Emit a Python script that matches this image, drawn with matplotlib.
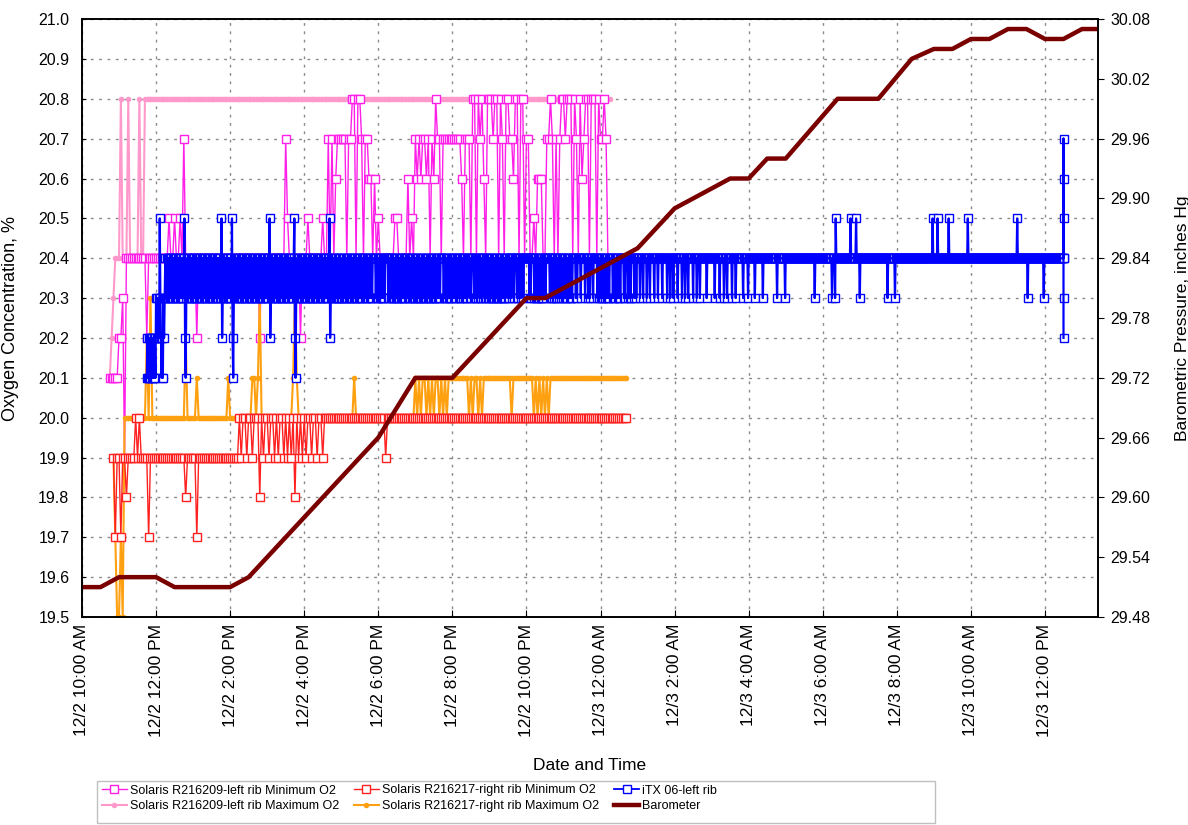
import matplotlib
matplotlib.use("Agg")
import matplotlib.pyplot as plt
from matplotlib import font_manager
from matplotlib.lines import Line2D
from matplotlib.patches import Rectangle
from matplotlib.ticker import FixedLocator, FuncFormatter, FormatStrFormatter
import numpy as np

plt.rcParams['font.family'] = ['Liberation Sans', 'DejaVu Sans']
# keep every zigzag of the dense logger traces
plt.rcParams['path.simplify'] = False

# O2 logs from 12/2 10:00 AM, one string per hour.
# Level code per reading: O2 % = 19.5 + int(code, 16) / 10, '.' = no reading.
START_HOUR = 10
SOLARIS_STEP_MIN = 3
ITX_STEP_MIN = 1

R216209_MIN = [
    '...............66666',
    '77849999999999979999',
    '9999999a99a99a9c9999',
    '99799999999999999999',
    '99999999999999997999',
    '9999999999ca99999979',
    '99a9999999a99c9c9bcc',
    'ccc9ccdd9ddc9ccbb9b9',
    'a99999999aa99999b9a9',
    'cbcbccbc9cbdcc9ccccc',
    'cccccb9ccc9dd9dcdb9d',
    'ddcdd9dc9ddccbdd9dd9',
    'cc99a9bbb99ccdc9c9cd',
    'dcddd9dc9dbcdd9ddd9d',
    'ccdc9...............',
]

R216209_MAX = [
    '..............667899',
    '9d999d99999d99dddddd',
    'dddddddddddddddddddd',
    'dddddddddddddddddddd',
    'dddddddddddddddddddd',
    'dddddddddddddddddddd',
    'dddddddddddddddddddd',
    'dddddddddddddddddddd',
    'dddddddddddddddddddd',
    'dddddddddddddddddddd',
    'dddddddddddddddddddd',
    'dddddddddddddddddddd',
    'dddddddddddddddddddd',
    'dddddddddddddddddddd',
    'dddddd..............',
]

R216217_MIN = [
    '.................424',
    '42443444454544442444',
    '44444444444444443444',
    '44244444444444444444',
    '44444545545545553545',
    '54554545545454535454',
    '54554554554555555555',
    '55555555555555555555',
    '55554555555555555555',
    '55555555555555555555',
    '55555555555555555555',
    '55555555555555555555',
    '55555555555555555555',
    '55555555555555555555',
    '555555555555555.....',
]

R216217_MAX = [
    '.................420',
    '02055555555555575855',
    '55555555555555557555',
    '55655555555555555556',
    '55555555555566568555',
    '55555555555555686555',
    '55555555555555555555',
    '55555556555555555555',
    '55555555555555555555',
    '65656656565665656566',
    '66666666656566565666',
    '66666666666656666666',
    '66665656565656666666',
    '66666666666666666666',
    '666666666666666.....',
]

ITX_06 = [
    '..... ..... ..... ..... ..... ..... ..... ..... ..... ..... ..... .....',
    '..... ..... ..... ..... ..... ..... ..... ..... ..... 67676 76767 67676',
    '87878 7a876 76878 98989 89898 98989 89898 98989 89898 9a768 98989 89898',
    '98989 89898 98989 89898 98989 89898 98989 89898 98989 8a789 89898 98989',
    '898a7 68989 89898 98989 89898 98989 89898 98989 89898 98989 89898 98989',
    '8989a 78989 89898 98989 89898 98989 89898 98989 8989a 76898 98989 89898',
    '98989 89898 98989 89898 98989 89898 98989 89898 9a789 89898 98989 89898',
    '89898 98989 89898 98989 89898 98989 89898 99989 89898 98989 89999 98989',
    '89898 98989 89999 98989 89898 98989 89898 98989 89898 99989 89898 98989',
    '89898 98989 89898 98989 89898 98989 89898 98989 89999 98989 89898 98989',
    '99898 98999 89898 99989 89898 99989 89999 89898 98999 89898 99989 89899',
    '89898 98989 89898 98989 89898 98999 89899 98999 89999 89899 98999 89999',
    '99999 89899 99989 89898 98989 89899 98999 99989 89898 99989 89899 98999',
    '89898 98999 89898 99999 89899 99989 99999 89999 89989 99989 99999 89899',
    '89898 99989 89898 99999 89898 99989 89899 99989 89999 89898 99999 89989',
    '99998 99998 99999 89999 89999 99899 99989 99999 89999 99989 99989 99989',
    '99999 89999 99899 99899 99899 99999 89999 98999 98999 99999 99899 99999',
    '99999 89999 99989 99999 89999 89999 99989 99998 99999 99999 98999 99998',
    '99999 99999 89999 99999 99989 99999 99999 99999 99999 98999 99999 99998',
    '99999 99999 99999 99999 99999 99999 99999 99999 99999 99899 99999 99999',
    '99999 99999 99999 89999 8a999 99999 99999 99999 99999 a9999 9999a 99999',
    '89999 99999 99999 99999 99999 99999 99999 99999 99999 89999 99999 99899',
    '99999 99999 99999 99999 99999 99999 99999 99999 99999 99999 99999 999a9',
    '99999 9a999 99999 99999 9999a 99999 99999 99999 99999 99999 99999 a9999',
    '99999 99999 99999 99999 99999 99999 99999 99999 99999 99999 99999 99999',
    '99999 99999 99999 a9999 99999 99999 99899 99999 99999 99999 99999 99989',
    '99999 99999 99999 99999 99999 99999 9.... ..... ..... ..... ..... .....',
]
# readings logged at the moment the iTX was retrieved
ITX_06_LAST = [20.7, 20.6, 20.5, 20.4, 20.3, 20.2]

# barometer, hours after midnight 12/2 vs inches Hg
BARO_HOURS = [10.0, 10.5, 11.0, 12.0, 12.5, 14.0, 14.5, 18.0, 19.0, 20.0,
              22.0, 22.5, 24.0, 25.0, 26.0, 27.5, 28.0, 28.5, 29.0, 30.4,
              31.5, 32.4, 33.0, 33.5, 34.0, 34.5, 35.0, 35.5, 36.0, 36.5,
              37.0, 37.45]
BARO_INHG = [29.51, 29.51, 29.52, 29.52, 29.51, 29.51, 29.52, 29.66, 29.72, 29.72,
             29.80, 29.80, 29.83, 29.85, 29.89, 29.92, 29.92, 29.94, 29.94, 30.00,
             30.00, 30.04, 30.05, 30.05, 30.06, 30.06, 30.07, 30.07, 30.06, 30.06,
             30.07, 30.07]

X_TICKS = list(range(10, 37, 2))
O2_TICKS = [19.5, 19.6, 19.7, 19.8, 19.9, 20.0, 20.1, 20.2, 20.3, 20.4,
            20.5, 20.6, 20.7, 20.8, 20.9, 21.0]
BARO_TICKS = [29.48, 29.54, 29.60, 29.66, 29.72, 29.78, 29.84, 29.90, 29.96, 30.02, 30.08]


def decode(rows, step_min):
    codes = "".join(rows).replace(" ", "")
    vals = np.array([np.nan if c == '.' else 19.5 + int(c, 16) / 10 for c in codes])
    hours = START_HOUR + np.arange(len(vals)) * step_min / 60
    return hours, vals


def time_label(h, pos):
    day = 2 + int(h // 24)
    hr = int(round(h)) % 24
    h12 = hr % 12 or 12
    return f"12/{day} {h12}:00 {'AM' if hr < 12 else 'PM'}"


fig = plt.figure(figsize=(11.88, 8.25), dpi=100)
ax = fig.add_axes([0.069, 0.2521, 0.8552, 0.7248])

sq = dict(marker='s', ms=5.5, mfc='white', mew=1.0)

t, v = decode(R216209_MAX, SOLARIS_STEP_MIN)
h_pmax, = ax.plot(t, v, color='#ff99cc', lw=1.5, marker='o', ms=4, mew=0)
t, v = decode(R216209_MIN, SOLARIS_STEP_MIN)
h_pmin, = ax.plot(t, v, color='#ff1fe8', lw=1.0, **sq)
t, v = decode(R216217_MAX, SOLARIS_STEP_MIN)
h_omax, = ax.plot(t, v, color='#ffa010', lw=1.5, marker='o', ms=4, mew=0)
t, v = decode(R216217_MIN, SOLARIS_STEP_MIN)
h_rmin, = ax.plot(t, v, color='#ff2020', lw=1.0, **sq)

# iTX: squares first, trace over them so the fast swings read as one band
t, v = decode(ITX_06, ITX_STEP_MIN)
ok = ~np.isnan(v)
t = np.concatenate([t[ok], np.full(len(ITX_06_LAST), t[ok][-1])])
v = np.concatenate([v[ok], ITX_06_LAST])
ax.plot(t, v, linestyle='none', color='#0000ff', zorder=2.0, **sq)
ax.plot(t, v, color='#0000ff', lw=1.6, zorder=2.05)
h_itx = Line2D([], [], color='#0000ff', lw=1.3, **sq)

ax.set_xlim(10, 37.43)
ax.set_ylim(19.5, 21.0)
ax.xaxis.set_major_locator(FixedLocator(X_TICKS))
ax.xaxis.set_major_formatter(FuncFormatter(time_label))
ax.yaxis.set_major_locator(FixedLocator(O2_TICKS))
ax.yaxis.set_major_formatter(FormatStrFormatter('%.1f'))
ax.tick_params(axis='x', direction='in', length=5, labelsize=12.5, labelrotation=90, pad=5)
ax.tick_params(axis='y', direction='in', length=3, labelsize=11.5, pad=9)
ax.grid(True, color='#8a8a8a', linestyle=(0, (2, 4)), lw=1.0)
ax.set_xlabel('Date and Time', fontsize=12.5)
ax.xaxis.set_label_coords(0.5, -0.236)
ax.set_ylabel('Oxygen Concentration, %', fontsize=13)
ax.yaxis.set_label_coords(-0.062, 0.5)

ax2 = ax.twinx()
h_baro, = ax2.plot(BARO_HOURS, BARO_INHG, color='#7a0000', lw=3.2)
ax2.set_ylim(29.48, 30.08)
ax2.yaxis.set_major_locator(FixedLocator(BARO_TICKS))
ax2.yaxis.set_major_formatter(FormatStrFormatter('%.2f'))
ax2.tick_params(axis='y', direction='out', length=4, labelsize=11.5, pad=5)
ax2.set_ylabel('Barometric Pressure, inches Hg', fontsize=12.5)
ax2.yaxis.set_label_coords(1.076, 0.5)

for a in (ax, ax2):
    for s in a.spines.values():
        s.set_linewidth(1.2)

handles = [h_pmin, h_pmax, h_rmin, h_omax, h_itx, h_baro]
labels = ['Solaris R216209-left rib Minimum O2',
          'Solaris R216209-left rib Maximum O2',
          'Solaris R216217-right rib Minimum O2',
          'Solaris R216217-right rib Maximum O2',
          'iTX 06-left rib',
          'Barometer']
installed = {f.name for f in font_manager.fontManager.ttflist}
if 'Liberation Sans Narrow' in installed:
    legend_font = dict(family='Liberation Sans Narrow', size=10.5)
else:
    legend_font = dict(family='Liberation Sans', size=9)
fig.legend(handles, labels, loc='upper left', bbox_to_anchor=(99 / 1188, 1 - 782 / 825),
           ncol=3, prop=legend_font, frameon=False, numpoints=1, handlelength=2.0,
           handletextpad=0.25, columnspacing=1.2, borderpad=0.2, labelspacing=0.3,
           borderaxespad=0)
# legend box is wider than its entries
fig.patches.append(Rectangle((97 / 1188, 2 / 825), (935 - 97) / 1188, (823 - 781) / 825,
                             transform=fig.transFigure, fill=False,
                             edgecolor='#c0c0c0', lw=1.0))

fig.savefig('out.png', dpi=100)
